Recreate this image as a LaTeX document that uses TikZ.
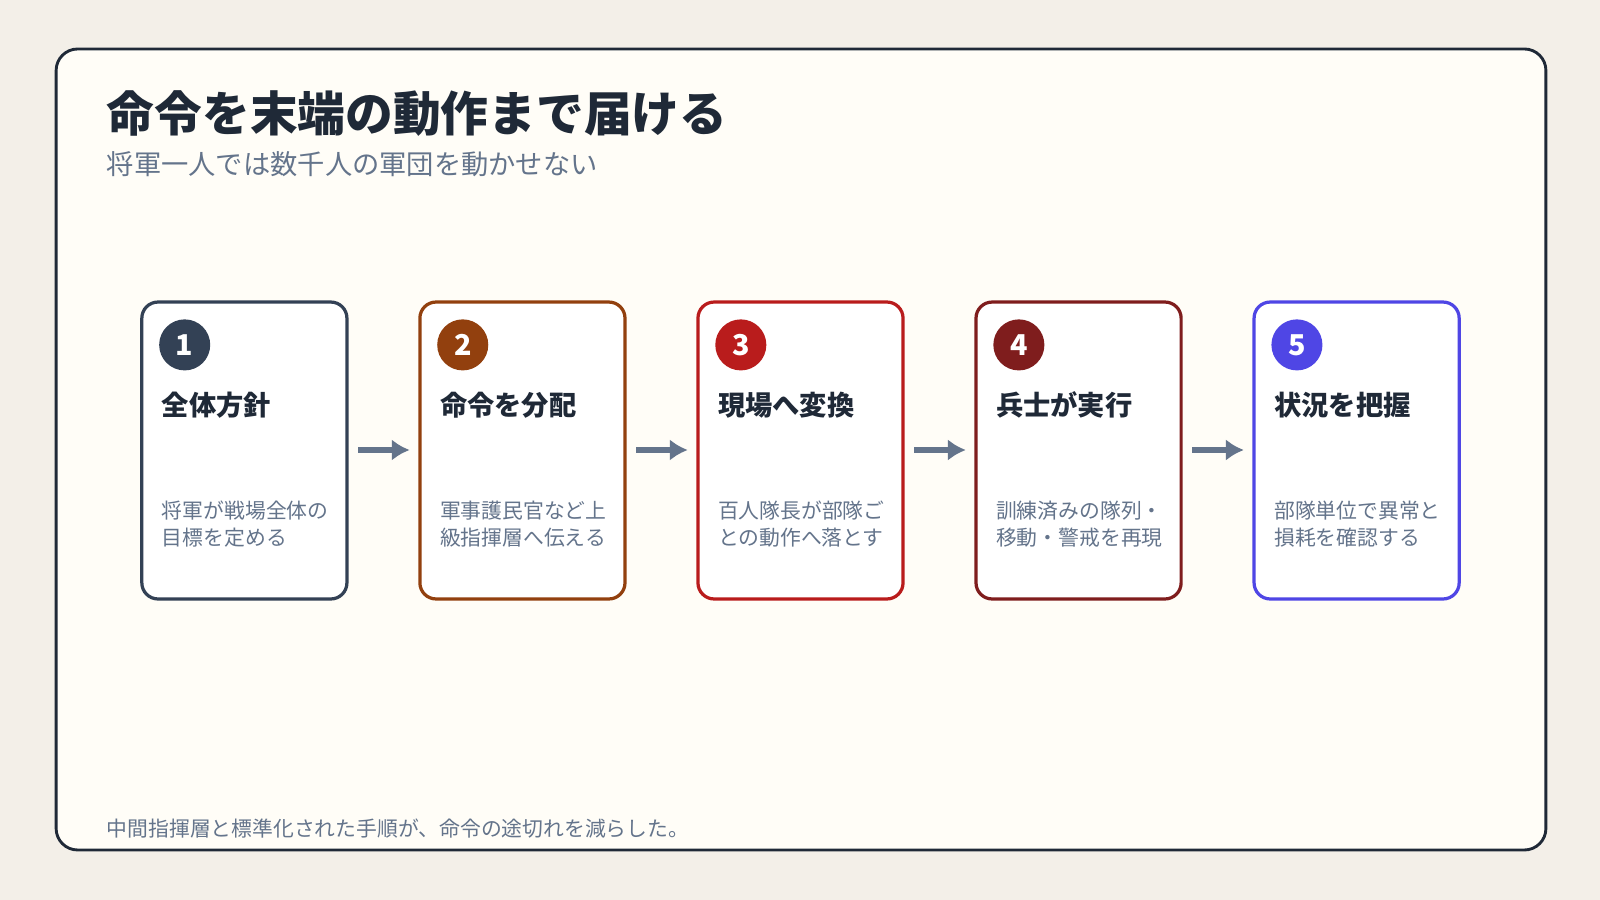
\documentclass[tikz,border=0pt]{standalone}
\usepackage{fontspec}
\setmainfont{Noto Sans CJK JP}
\usetikzlibrary{positioning,arrows.meta}
\definecolor{bg}{HTML}{F3EFE8}
\definecolor{panel}{HTML}{FFFDF7}
\definecolor{ink}{HTML}{1F2937}
\definecolor{muted}{HTML}{64748B}
\definecolor{cA}{HTML}{334155}
\definecolor{cB}{HTML}{92400E}
\definecolor{cC}{HTML}{B91C1C}
\definecolor{cD}{HTML}{7F1D1D}
\definecolor{cE}{HTML}{4F46E5}
\tikzset{
  step/.style={draw=#1, line width=0.9pt, rounded corners=4.5pt, fill=white},
  badge/.style={circle, fill=#1, minimum size=0.5cm, inner sep=0pt, text=white, font=\fontsize{8}{8}\selectfont\bfseries},
  head/.style={anchor=west, inner sep=0pt, text=ink, font=\fontsize{7.6}{9}\selectfont\bfseries},
  body/.style={anchor=north west, inner sep=0pt, text=muted, align=left, font=\fontsize{5.8}{7.6}\selectfont},
  flow/.style={draw=muted, line width=1.6pt, -{Latex[length=5pt,width=6pt]}}
}
\begin{document}
\begin{tikzpicture}[x=0.01cm,y=-0.01cm]
\fill[bg] (0,0) rectangle (1568,882);
\draw[ink, line width=0.8pt, fill=panel, rounded corners=6pt] (55,48) rectangle (1515,833);
% title
\node[anchor=west, inner sep=0pt, text=ink, font=\fontsize{13.3}{15}\selectfont\bfseries] (title) at (104,111) {命令を末端の動作まで届ける};
\node[anchor=west, inner sep=0pt, text=muted, font=\fontsize{7.6}{9}\selectfont] (sub) at (104,161) {将軍一人では数千人の軍団を動かせない};
% steps
\foreach \i/\col/\hd/\la/\lb in {
  1/cA/全体方針/将軍が戦場全体の/目標を定める,
  2/cB/命令を分配/軍事護民官など上/級指揮層へ伝える,
  3/cC/現場へ変換/百人隊長が部隊ご/との動作へ落とす,
  4/cD/兵士が実行/訓練済みの隊列・/移動・警戒を再現,
  5/cE/状況を把握/部隊単位で異常と/損耗を確認する}{
  \pgfmathsetmacro{\xo}{139+(\i-1)*272.5}
  \draw[step=\col] (\xo,296) rectangle ++(201,291);
  \coordinate (s\i w) at (\xo-10,441);
  \coordinate (s\i e) at (\xo+212,441);
  \node[badge=\col] (n\i) at (\xo+42,338) {\i};
  \node[head] (h\i) at (\xo+19,397) {\hd};
  \node[body] (b\i) at (\xo+19,490) {\la\\\lb};
}
\foreach \i [evaluate=\i as \j using int(\i+1)] in {1,...,4}
  \draw[flow] (s\i e) -- (s\j w);
% footer
\node[anchor=west, inner sep=0pt, text=muted, font=\fontsize{5.8}{7}\selectfont] (note) at (104,812) {中間指揮層と標準化された手順が、命令の途切れを減らした。};
\end{tikzpicture}
\end{document}
